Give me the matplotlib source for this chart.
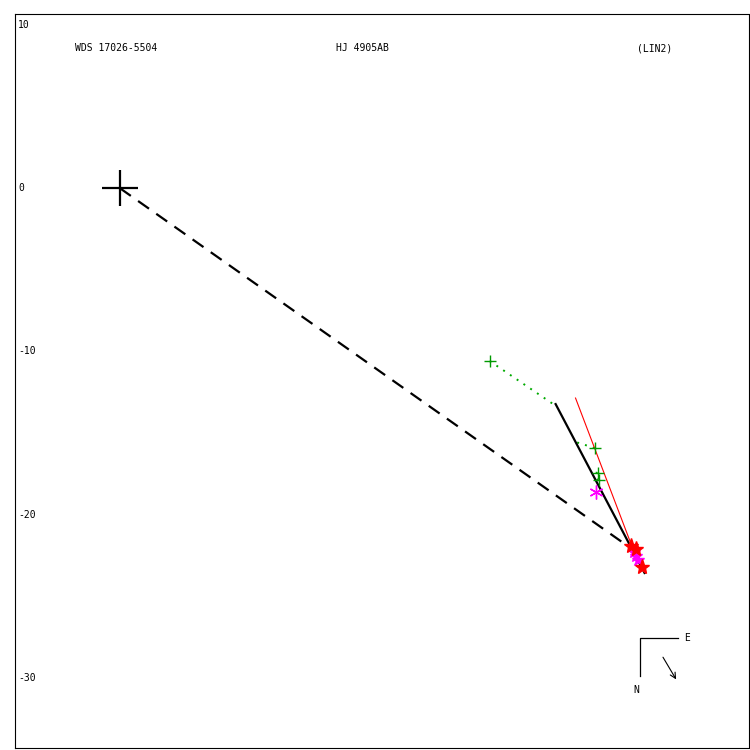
import matplotlib
matplotlib.use("Agg")
import matplotlib.pyplot as plt

# Data (arcsec-like units)
primary = (0.0, 0.0)
periastron_line_x = [0.0, 31.29]
periastron_line_y = [0.0, -22.05]
orbit_x = [26.70, 32.15]
orbit_y = [-13.23, -23.58]
red_line_x = [27.92, 31.60]
red_line_y = [-12.86, -22.53]
green_plus_x = [22.66, 29.09, 29.27, 29.33]
green_plus_y = [-10.59, -15.92, -17.45, -17.88]
oc_x = [[22.66, 26.64], [29.09, 27.92], [29.27, 28.90], [29.33, 29.10]]
oc_y = [[-10.59, -13.29], [-15.92, -15.55], [-17.45, -17.38], [-17.88, -17.80]]
magenta_ast_x = [29.15]
magenta_ast_y = [-18.62]
magenta_star_x = [31.48, 31.60, 31.72]
magenta_star_y = [-22.29, -22.53, -22.78]
red_star_x = [31.35, 31.60, 31.97]
red_star_y = [-21.92, -22.11, -23.21]
yticks = [10, 0, -10, -20, -30]
ytick_labels = ["10", "0", "-10", "-20", "-30"]

fig = plt.figure(figsize=(7.5, 7.5), dpi=100)
ax = fig.add_axes([0.02, 0.003, 0.978, 0.978])
ax.set_xlim(-6.43, 38.52)
ax.set_ylim(-34.29, 10.66)
ax.set_xticks([])
ax.set_yticks([])
for s in ax.spines.values():
    s.set_linewidth(0.8)

mono = "DejaVu Sans Mono"

# y labels inside the frame
for v, lab in zip(yticks, ytick_labels):
    ax.text(0.004, (v - (-34.29)) / (10.66 - (-34.29)), lab, transform=ax.transAxes,
            ha="left", va="center", fontsize=7, family=mono)

# titles
ax.text(0.082, 0.9535, "WDS 17026-5504", transform=ax.transAxes, ha="left", va="center",
        fontsize=7, family=mono)
ax.text(0.473, 0.9535, "HJ 4905AB", transform=ax.transAxes, ha="center", va="center",
        fontsize=7, family=mono)
ax.text(0.848, 0.9535, "(LIN2)", transform=ax.transAxes, ha="left", va="center",
        fontsize=7, family=mono)

# primary
ax.plot([primary[0]], [primary[1]], marker="+", color="black", markersize=26,
        markeredgewidth=1.6, linestyle="none", zorder=5)
# dashed line of nodes
ax.plot(periastron_line_x, periastron_line_y, color="black", linewidth=1.6,
        dashes=(6, 4), zorder=3)
# orbit
ax.plot(orbit_x, orbit_y, color="black", linewidth=1.6, zorder=4)
ax.plot(red_line_x, red_line_y, color="red", linewidth=0.8, zorder=3)
# O-C lines
for xs, ys in zip(oc_x, oc_y):
    ax.plot(xs, ys, color="#00aa00", linewidth=1.4, linestyle=(0, (1, 3.2)), zorder=2)
ax.plot(green_plus_x, green_plus_y, marker="+", color="#009900", markersize=9,
        markeredgewidth=1.0, linestyle="none", zorder=6)
ax.plot(magenta_ast_x, magenta_ast_y, marker=(6, 2, 0), color="magenta", markersize=10,
        markeredgewidth=1.0, linestyle="none", zorder=6)
ax.plot(magenta_star_x, magenta_star_y, marker="*", color="magenta", markersize=9,
        linestyle="none", zorder=6)
ax.plot(red_star_x, red_star_y, marker="*", color="red", markersize=11,
        linestyle="none", zorder=7)

# compass
T = ax.transAxes
def fx(px):
    return (px - 15) / 734.0
def fy(py):
    return (748 - py) / 734.0
ax.plot([fx(640), fx(640), fx(678)], [fy(676), fy(638), fy(638)], transform=T,
        color="black", linewidth=0.9)
ax.text(fx(685), fy(638), "E", transform=T, ha="left", va="center", fontsize=7, family=mono)
ax.text(fx(637), fy(690), "N", transform=T, ha="center", va="center", fontsize=7, family=mono)
ax.annotate("", xy=(fx(678), fy(682)), xytext=(fx(662), fy(655)), xycoords=T, textcoords=T,
            arrowprops=dict(arrowstyle="->", color="black", linewidth=0.8))

fig.savefig("out.png", dpi=100)
